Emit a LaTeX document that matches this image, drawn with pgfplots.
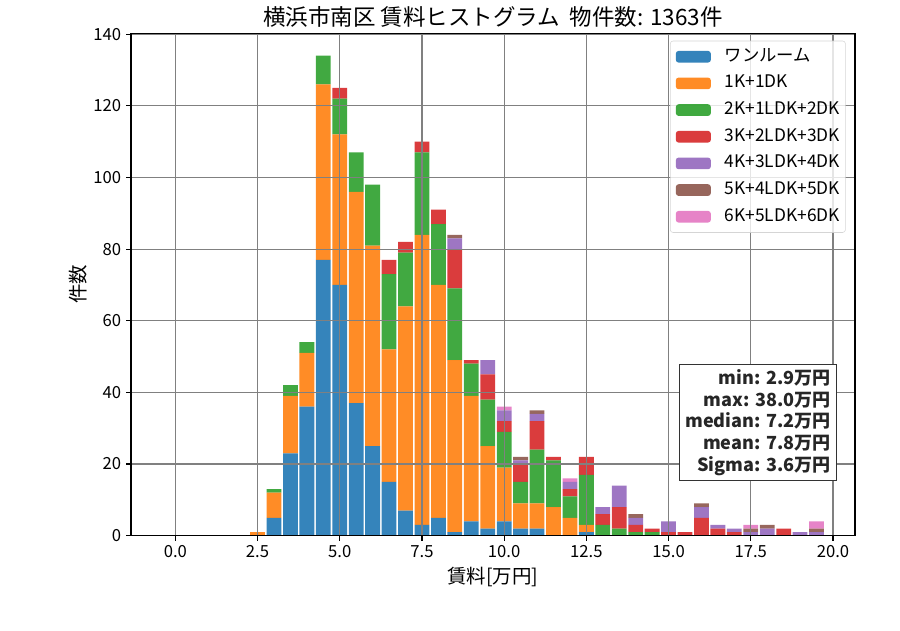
\documentclass[border=0pt]{standalone}
\usepackage{fontspec}
\setmainfont{Noto Sans CJK JP}
\usepackage{pgfplots}
\usepackage{pgfplotstable}
\pgfplotsset{compat=1.18}

% tab10 colours
\definecolor{tblue}{HTML}{1F77B4}
\definecolor{torange}{HTML}{FF7F0E}
\definecolor{tgreen}{HTML}{2CA02C}
\definecolor{tred}{HTML}{D62728}
\definecolor{tpurple}{HTML}{9467BD}
\definecolor{tbrown}{HTML}{8C564B}
\definecolor{tpink}{HTML}{E377C2}
\definecolor{gridgray}{HTML}{808080}

% counts per 0.5 bin, by floor plan
\pgfplotstableread{
x    one k1 k2 k3 k4 k5 k6
2.5  0   1  0  0  0  0  0
3.0  5   7  1  0  0  0  0
3.5  23  16 3  0  0  0  0
4.0  36  15 3  0  0  0  0
4.5  77  49 8  0  0  0  0
5.0  70  42 10 3  0  0  0
5.5  37  59 11 0  0  0  0
6.0  25  56 17 0  0  0  0
6.5  15  37 21 4  0  0  0
7.0  7   57 15 3  0  0  0
7.5  3   81 23 3  0  0  0
8.0  5   65 17 4  0  0  0
8.5  1   48 20 11 3  1  0
9.0  4   35 9  1  0  0  0
9.5  2   23 13 7  4  0  0
10.0 4   15 10 3  3  0  1
10.5 2   7  6  5  1  1  0
11.0 2   7  15 8  2  1  0
11.5 0   8  13 1  0  0  0
12.0 0   5  6  2  2  0  1
12.5 1   2  14 5  0  0  0
13.0 0   0  3  3  2  0  0
13.5 0   0  2  6  6  0  0
14.0 0   0  1  2  2  1  0
14.5 0   0  1  1  0  0  0
15.0 0   0  0  1  3  0  0
15.5 0   0  0  1  0  0  0
16.0 0   0  0  5  3  1  0
16.5 0   0  0  2  1  0  0
17.0 0   0  0  1  1  0  0
17.5 0   0  0  0  1  1  1
18.0 0   0  0  0  2  1  0
18.5 0   0  0  2  0  0  0
19.0 0   0  0  0  1  0  0
19.5 0   0  0  0  1  1  2
}\rent

\begin{document}
\begin{tikzpicture}
\useasboundingbox (-94.3pt,-67.9pt) rectangle (553.7pt,385.7pt);
\begin{axis}[
  name=ax,
  width=521.3pt, height=361.9pt, scale only axis,
  xmin=-1.35, xmax=20.67, ymin=0, ymax=140.3,
  enlargelimits=false,
  axis on top,
  ybar stacked, bar width=0.45,
  xtick={0,2.5,...,20}, ytick={0,20,...,140},
  xticklabel style={/pgf/number format/.cd, fixed, fixed zerofill, precision=1},
  /pgf/number format/assume math mode=true,
  ticklabel style={font=\fontsize{12}{14}\selectfont},
  xtick pos=bottom, ytick pos=left,
  tick align=outside, major tick length=3.5pt,
  tick style={black, line width=0.8pt},
  axis line style={black, line width=0.8pt},
  grid=major,
  major grid style={gridgray, line width=0.8pt},
  title={横浜市南区 賃料ヒストグラム\ \ 物件数: 1363件},
  title style={font=\fontsize{16.2}{19}\selectfont, at={(0.5,1.0159)}, anchor=base, yshift=-6pt},
  xlabel={賃料[万円]},
  xlabel style={font=\fontsize{14}{17}\selectfont, at={(0.5,-0.0822)}, anchor=center},
  ylabel={件数},
  ylabel style={font=\fontsize{14}{17}\selectfont, at={(-0.0732,0.5)}, anchor=center},
  legend cell align=left,
  legend image code/.code={\fill[#1, draw=none] (0pt,-4.2pt) rectangle (25.2pt,4.2pt);},
  legend style={at={(1,1)}, anchor=north east, xshift=-6.7pt, yshift=-5.5pt,
    draw=black!20, fill=white, fill opacity=0.8, draw opacity=0.8, text opacity=1,
    rounded corners=2pt, inner xsep=4pt, inner ysep=5.6pt, row sep=7.7pt,
    font=\fontsize{12.5}{15}\selectfont,
    nodes={inner sep=0pt, text height=9pt, text depth=2.5pt},
    /tikz/every odd column/.append style={column sep=10pt}},
]
\addplot[fill=tblue, fill opacity=0.9, draw=none] table[x=x, y=one] {\rent};
\addlegendentry{ワンルーム}
\addplot[fill=torange, fill opacity=0.9, draw=none] table[x=x, y=k1] {\rent};
\addlegendentry{1K+1DK}
\addplot[fill=tgreen, fill opacity=0.9, draw=none] table[x=x, y=k2] {\rent};
\addlegendentry{2K+1LDK+2DK}
\addplot[fill=tred, fill opacity=0.9, draw=none] table[x=x, y=k3] {\rent};
\addlegendentry{3K+2LDK+3DK}
\addplot[fill=tpurple, fill opacity=0.9, draw=none] table[x=x, y=k4] {\rent};
\addlegendentry{4K+3LDK+4DK}
\addplot[fill=tbrown, fill opacity=0.9, draw=none] table[x=x, y=k5] {\rent};
\addlegendentry{5K+4LDK+5DK}
\addplot[fill=tpink, fill opacity=0.9, draw=none] table[x=x, y=k6] {\rent};
\addlegendentry{6K+5LDK+6DK}
\end{axis}
% summary box, drawn over the grid
\node[anchor=south east, xshift=-13.2pt, yshift=39.4pt, draw=black!80, fill=white,
  line width=0.8pt, inner xsep=4pt, inner ysep=3.5pt, align=right, text=black!85,
  font=\fontsize{13}{15.6}\selectfont\bfseries]
  at (ax.south east)
  {min: 2.9万円\\max: 38.0万円\\median: 7.2万円\\mean: 7.8万円\\Sigma: 3.6万円};
\end{tikzpicture}
\end{document}
